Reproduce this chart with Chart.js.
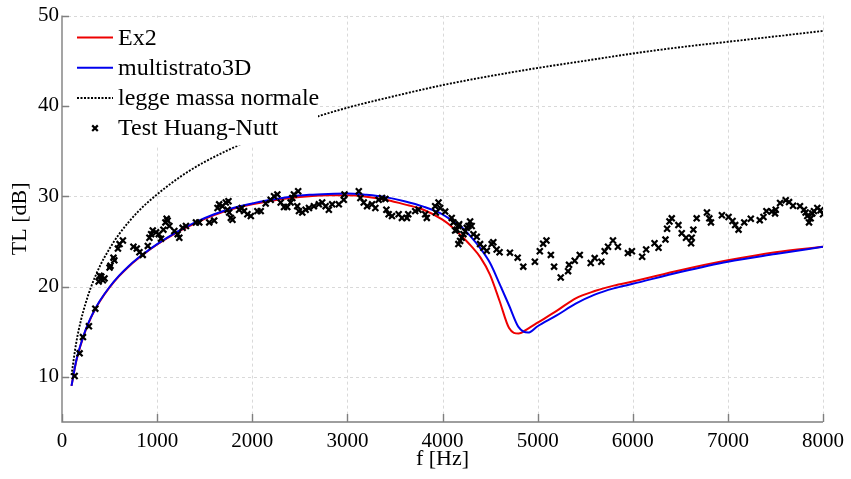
<!DOCTYPE html>
<html>
<head>
<meta charset="utf-8">
<script src="https://cdn.jsdelivr.net/npm/chart.js@4.4.1/dist/chart.umd.min.js"></script>
<style>
  html, body { margin: 0; padding: 0; background: #fff; }
  #wrap { width: 851px; height: 479px; }
</style>
</head>
<body>
<div id="wrap"><canvas id="c" width="851" height="479"></canvas></div>
<script>
// Frequency axis and level axis tick values
const xTicks = [0, 1000, 2000, 3000, 4000, 5000, 6000, 7000, 8000];
const yTicks = [10, 20, 30, 40, 50];

// Model curves (frequency in Hz, TL in dB)
const modelFreq = [100, 150, 200, 250, 300, 350, 400, 500, 600, 700, 800, 900, 1000, 1200, 1400, 1600, 1800,
  2000, 2200, 2400, 2600, 2800, 3000, 3200, 3400, 3600, 3800, 4000, 4100, 4200, 4300, 4400, 4500,
  4600, 4700, 4800, 4900, 5000, 5200, 5400, 5600, 5800, 6000, 6500, 7000, 7500, 8000];
const ex2TL = [9.0, 11.75, 13.65, 15.2, 16.45, 17.5, 18.4, 19.9, 21.15, 22.2, 23.1, 23.9, 24.65, 25.95, 27.0, 27.9, 28.6,
  29.1, 29.5, 29.8, 30.0, 30.1, 30.1, 29.95, 29.6, 29.1, 28.5, 27.4, 26.6, 25.6, 24.5, 23.2, 21.3,
  18.4, 15.4, 14.8, 15.35, 16.0, 17.3, 18.7, 19.5, 20.1, 20.55, 21.8, 22.9, 23.8, 24.4];
const multistratoTL = [9.0, 11.8, 13.7, 15.25, 16.5, 17.55, 18.45, 19.95, 21.2, 22.25, 23.15, 23.95, 24.7, 26.0, 27.1, 28.0, 28.7,
  29.2, 29.6, 29.95, 30.15, 30.25, 30.3, 30.15, 29.9, 29.45, 28.85, 28.0, 27.3, 26.6, 25.5, 24.2, 22.6,
  20.3, 17.9, 15.5, 14.9, 15.6, 16.8, 18.1, 19.1, 19.8, 20.3, 21.6, 22.75, 23.6, 24.4];

// Normal-incidence mass law
const massFreq = [100, 150, 200, 250, 300, 400, 500, 600, 800, 1000, 1250, 1500, 2000, 2500, 3000,
  3500, 4000, 4500, 5000, 5500, 6000, 6500, 7000, 7500, 8000];
const massTL = [10.2, 13.8, 16.3, 18.2, 19.8, 22.3, 24.2, 25.8, 28.3, 30.2, 32.2, 33.8, 36.3, 38.2, 39.8,
  41.1, 42.3, 43.3, 44.2, 45.0, 45.8, 46.5, 47.1, 47.7, 48.3];

// Huang-Nutt measurements
const testFreq = [133, 185, 220, 283, 350, 385, 395, 413, 430, 447, 500, 510, 541, 550, 588, 605, 640,
  751, 786, 814, 849, 902, 919, 937, 954, 989, 1017, 1041, 1066, 1087, 1100, 1110, 1129, 1181, 1216, 1233,
  1268, 1303, 1408, 1443, 1548, 1600, 1635, 1652, 1687, 1722, 1740, 1750, 1757, 1775, 1792, 1862, 1890,
  1914, 1949, 1985, 2054, 2089, 2141, 2194, 2229, 2264, 2299, 2334, 2368, 2403, 2421, 2438, 2473, 2483,
  2491, 2526, 2561, 2596, 2648, 2700, 2735, 2771, 2805, 2840, 2910, 2962, 2970, 3120, 3137, 3172, 3207,
  3259, 3294, 3329, 3364, 3399, 3410, 3434, 3469, 3539, 3573, 3626, 3640, 3713, 3748, 3818, 3835, 3923,
  3930, 3958, 3976, 4028, 4097, 4115, 4133, 4150, 4167, 4167, 4175, 4185, 4202, 4220, 4238, 4255, 4272,
  4290, 4307, 4325, 4360, 4395, 4430, 4465, 4517, 4534, 4569, 4600, 4709, 4790, 4849, 4971, 5023, 5058,
  5093, 5139, 5173, 5243, 5320, 5330, 5390, 5443, 5558, 5600, 5670, 5705, 5740, 5792, 5844, 5949, 5991,
  6099, 6141, 6229, 6271, 6344, 6361, 6386, 6410, 6480, 6515, 6560, 6613, 6620, 6637, 6672, 6780, 6805,
  6822, 6937, 7007, 7049, 7077, 7112, 7172, 7241, 7335, 7374, 7405, 7461, 7496, 7503, 7549, 7608, 7643,
  7685, 7758, 7800, 7817, 7835, 7853, 7870, 7887, 7905, 7940, 7974, 8000];
const testTL = [10.1, 12.6, 14.4, 15.6, 17.55, 20.55, 21.2, 21.1, 20.7, 20.9, 22.1, 22.3, 23.2, 22.9, 24.2, 24.7, 25.1,
  24.4, 24.2, 23.8, 23.5, 24.5, 25.4, 25.8, 26.2, 26.0, 25.8, 25.3, 26.3, 27.1, 27.5, 27.3, 26.7, 26.15, 25.8, 25.4,
  26.5, 26.7, 27.1, 27.1, 27.1, 27.3, 28.7, 29.1, 28.9, 29.3, 28.5, 29.45, 28.2, 27.6, 27.4, 28.5, 28.7,
  28.35, 28.0, 27.8, 28.35, 28.35, 29.2, 29.6, 30.0, 30.2, 29.3, 28.8, 28.8, 29.3, 29.8, 30.2, 28.9, 30.55,
  28.35, 28.2, 28.5, 28.7, 28.9, 29.1, 29.3, 28.9, 28.5, 29.1, 29.1, 29.6, 30.2, 30.55, 29.8, 29.3, 28.9,
  29.1, 28.7, 29.6, 29.8, 29.7, 28.5, 28.0, 27.8, 28.0, 27.6, 27.6, 28.0, 28.35, 28.5, 28.0, 27.6, 28.9,
  28.2, 29.3, 28.7, 28.3, 27.6, 27.1, 26.2, 26.3, 26.7, 24.7, 26.9, 25.05, 25.4, 25.8, 26.1, 26.5, 26.7,
  27.2, 26.7, 25.8, 25.5, 24.7, 24.3, 23.95, 24.7, 24.9, 24.1, 23.8, 23.75, 23.2, 22.2, 22.75, 23.9, 24.75,
  25.1, 23.5, 22.2, 21.0, 21.7, 22.4, 22.85, 23.5, 22.6, 23.15, 22.75, 23.9, 24.4, 25.1, 24.4, 23.7, 23.9,
  23.3, 24.1, 24.8, 24.3, 25.2, 26.4, 27.2, 27.55, 26.8, 25.9, 25.4, 24.8, 25.4, 26.3, 27.55, 28.2, 27.55,
  27.1, 27.9, 27.7, 27.25, 26.8, 26.3, 27.1, 27.5, 27.35, 27.7, 28.35, 28.3, 28.1, 28.5, 29.25, 29.55, 29.35,
  28.95, 28.9, 28.5, 28.2, 27.8, 27.1, 27.55, 28.1, 28.35, 28.7, 28.45, 28.0];

const legendLabels = ['Ex2', 'multistrato3D', 'legge massa normale', 'Test Huang-Nutt'];

const SERIF = '"Liberation Serif", "Times New Roman", serif';
const pairs = (xs, ys) => xs.map((x, i) => ({ x, y: ys[i] }));

// Dashed grid, solid left/bottom axes and inward tick marks
const framePlugin = {
  id: 'frame',
  beforeDatasetsDraw(chart) {
    const { ctx, chartArea: a, scales: { x, y } } = chart;
    ctx.save();
    ctx.lineWidth = 1;
    ctx.strokeStyle = '#d9d9d9';
    ctx.setLineDash([3, 3]);
    ctx.beginPath();
    xTicks.forEach(t => {
      if (t === xTicks[0]) return;
      const px = Math.round(x.getPixelForValue(t)) + 0.5;
      ctx.moveTo(px, a.top); ctx.lineTo(px, a.bottom);
    });
    yTicks.forEach(t => {
      const py = Math.round(y.getPixelForValue(t)) + 0.5;
      ctx.moveTo(a.left, py); ctx.lineTo(a.right, py);
    });
    ctx.stroke();
    ctx.setLineDash([]);
    ctx.strokeStyle = '#7f7f7f';
    ctx.lineWidth = 1.4;
    ctx.beginPath();
    ctx.moveTo(a.left, a.top); ctx.lineTo(a.left, a.bottom); ctx.lineTo(a.right, a.bottom);
    xTicks.forEach(t => {
      const px = Math.round(x.getPixelForValue(t)) + 0.5;
      ctx.moveTo(px, a.bottom); ctx.lineTo(px, a.bottom - 8);
    });
    yTicks.forEach(t => {
      const py = Math.round(y.getPixelForValue(t)) + 0.5;
      ctx.moveTo(a.left, py); ctx.lineTo(a.left + 7, py);
    });
    ctx.stroke();
    ctx.restore();
  }
};

// Legend box drawn inside the plot, top-left corner
const legendPlugin = {
  id: 'innerLegend',
  afterDatasetsDraw(chart) {
    const { ctx, chartArea: a } = chart;
    const ds = chart.data.datasets;
    ctx.save();
    ctx.fillStyle = '#ffffff';
    ctx.fillRect(a.left + 8, a.top + 2, 248, 128);
    const x0 = a.left + 15, x1 = a.left + 51, tx = a.left + 56;
    ctx.font = '24px ' + SERIF;
    ctx.textBaseline = 'middle';
    ctx.textAlign = 'left';
    legendLabels.forEach((label, i) => {
      const yy = a.top + 22 + i * 30.2;
      const d = ds[i];
      if (d.showLine !== false) {
        ctx.strokeStyle = d.borderColor;
        ctx.lineWidth = d.borderWidth;
        ctx.setLineDash(d.borderDash || []);
        ctx.beginPath(); ctx.moveTo(x0, yy); ctx.lineTo(x1, yy); ctx.stroke();
        ctx.setLineDash([]);
      } else {
        const cx = (x0 + x1) / 2, r = 2.8;
        ctx.strokeStyle = d.borderColor;
        ctx.lineWidth = d.borderWidth;
        ctx.beginPath();
        ctx.moveTo(cx - r, yy - r); ctx.lineTo(cx + r, yy + r);
        ctx.moveTo(cx + r, yy - r); ctx.lineTo(cx - r, yy + r);
        ctx.stroke();
      }
      ctx.fillStyle = '#000';
      ctx.fillText(label, tx, yy + 1);
    });
    ctx.restore();
  }
};

new Chart(document.getElementById('c'), {
  type: 'line',
  data: {
    datasets: [
      { label: legendLabels[0], data: pairs(modelFreq, ex2TL), borderColor: '#ee0000', borderWidth: 2,
        pointRadius: 0, cubicInterpolationMode: 'monotone', order: 2 },
      { label: legendLabels[1], data: pairs(modelFreq, multistratoTL), borderColor: '#0000ee', borderWidth: 2,
        pointRadius: 0, cubicInterpolationMode: 'monotone', order: 1 },
      { label: legendLabels[2], data: pairs(massFreq, massTL), borderColor: '#000000', borderWidth: 1.9,
        borderDash: [2, 1.5], pointRadius: 0, cubicInterpolationMode: 'monotone', order: 3 },
      { label: legendLabels[3], data: pairs(testFreq, testTL), showLine: false, borderColor: '#000000',
        backgroundColor: '#000000', borderWidth: 2.2, pointStyle: 'crossRot', pointRadius: 4.2, order: 0 }
    ]
  },
  options: {
    responsive: false,
    animation: false,
    devicePixelRatio: 1,
    layout: { padding: { top: 13, right: 25, left: 0, bottom: 0 } },
    plugins: { legend: { display: false }, tooltip: { enabled: false } },
    scales: {
      x: {
        type: 'linear', min: 0, max: 8000,
        grid: { display: false, drawTicks: false },
        border: { display: false },
        afterBuildTicks: s => { s.ticks = xTicks.map(v => ({ value: v })); },
        afterFit: s => { s.height = 57; },
        ticks: { color: '#000', font: { family: SERIF, size: 21 }, padding: 7, maxRotation: 0,
                 callback: v => String(v) },
        title: { display: true, text: 'f [Hz]', color: '#000', font: { family: SERIF, size: 22 },
                 padding: { top: 0, bottom: 7 } }
      },
      y: {
        type: 'linear', min: 5, max: 50,
        grid: { display: false, drawTicks: false },
        border: { display: false },
        afterBuildTicks: s => { s.ticks = yTicks.map(v => ({ value: v })); },
        afterFit: s => { s.width = 62; },
        ticks: { color: '#000', font: { family: SERIF, size: 21 }, padding: 3, callback: v => String(v) },
        title: { display: true, text: 'TL [dB]', color: '#000', font: { family: SERIF, size: 22 },
                 padding: { top: 7, bottom: 0 } }
      }
    }
  },
  plugins: [framePlugin, legendPlugin]
});
</script>
</body>
</html>
